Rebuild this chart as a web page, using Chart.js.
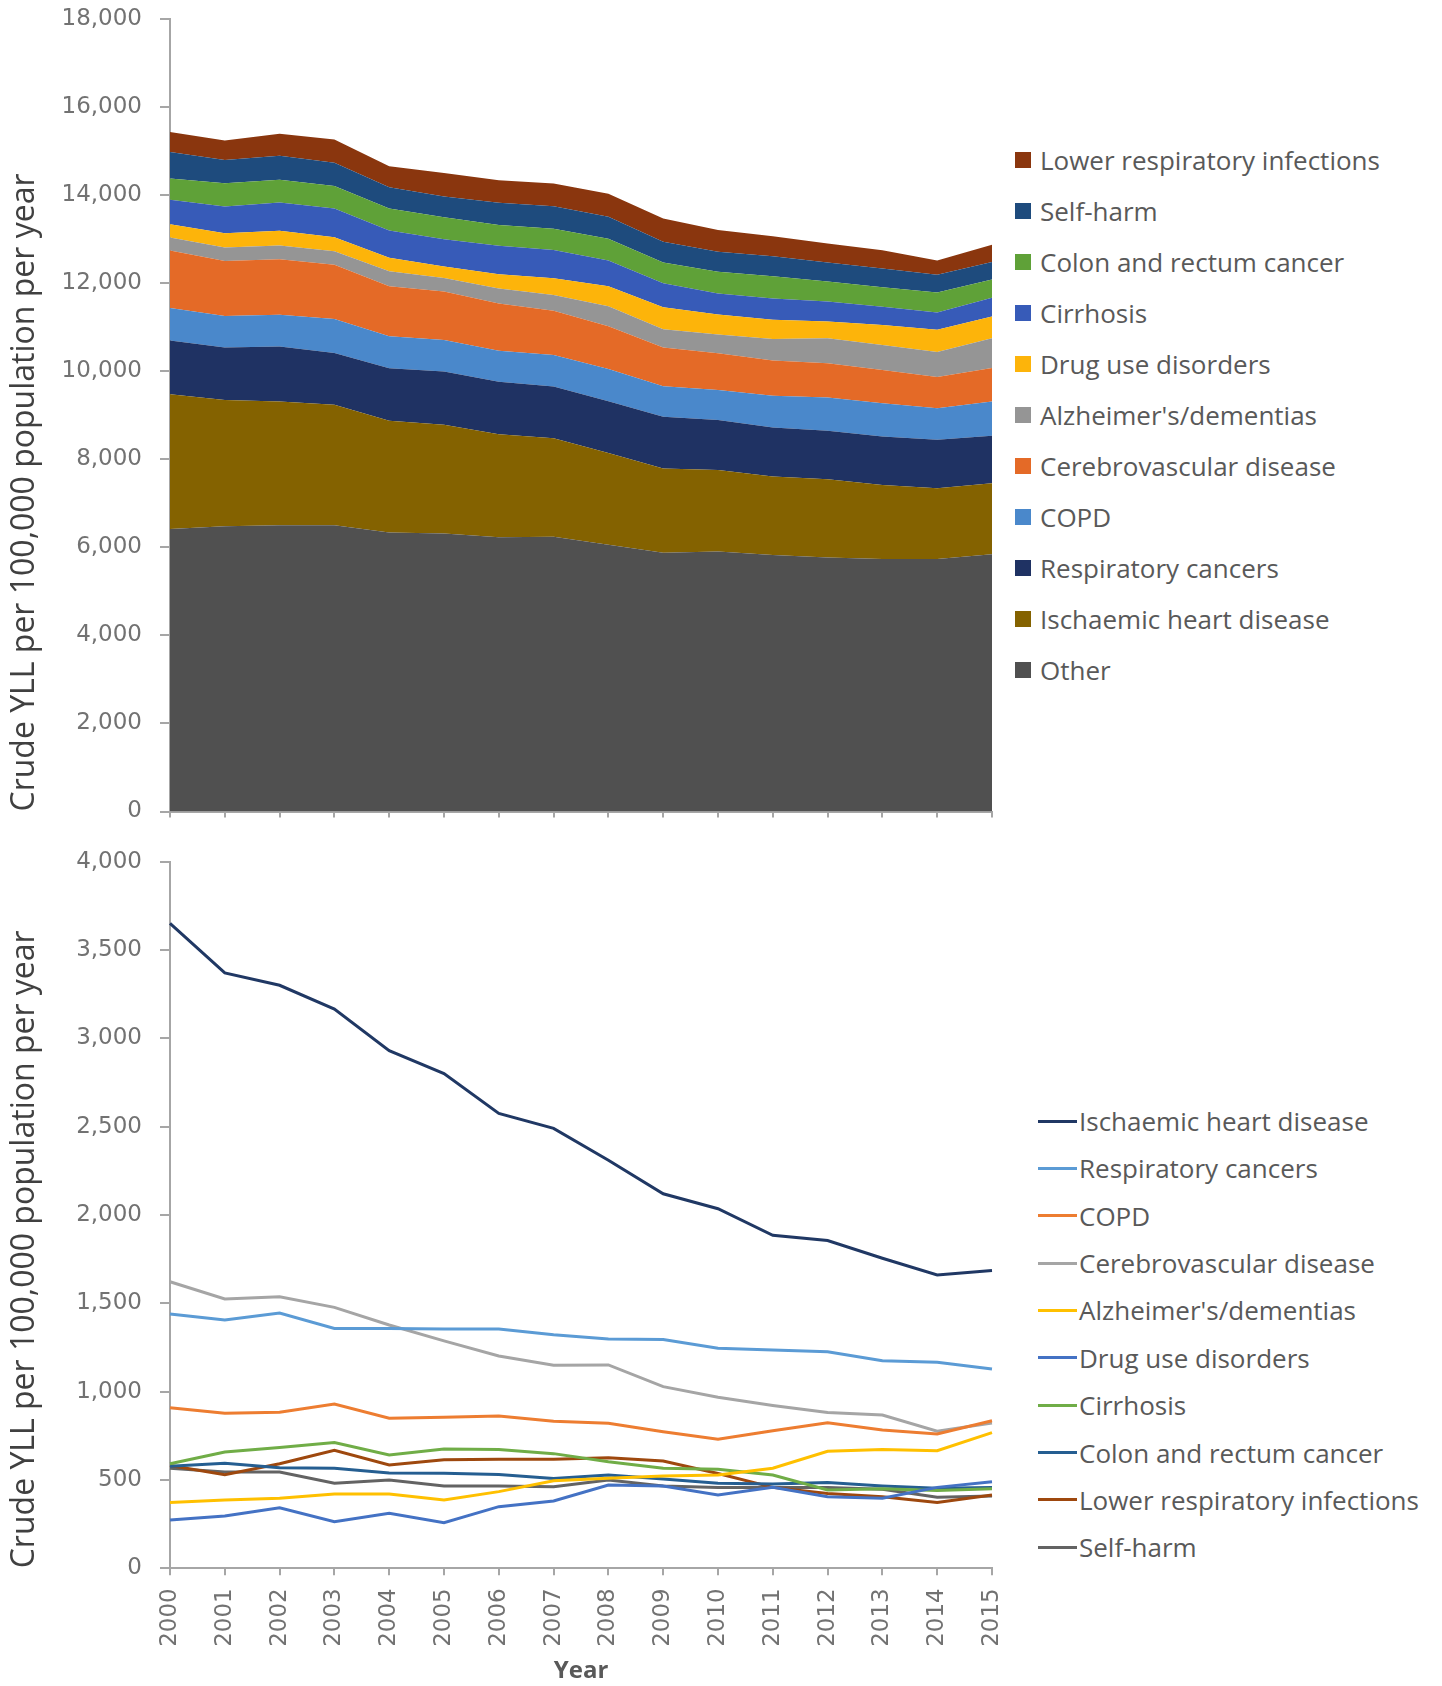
<!DOCTYPE html>
<html lang="en">
<head>
  <meta charset="UTF-8">
  <title>Crude YLL per 100,000 population per year</title>
  <script src="https://cdn.jsdelivr.net/npm/chart.js@4.4.0/dist/chart.umd.min.js"></script>
  <style>
    body { margin: 0; background: #fff; }
    .page { position: relative; width: 1442px; height: 1686px; overflow: hidden; }
    .chart-box { position: absolute; left: 0; width: 1010px; }
    #stackBox { top: 0; height: 840px; }
    #lineBox { top: 840px; height: 846px; }
    .legend-item {
      position: absolute; height: 30px; line-height: 30px; white-space: nowrap;
      font-family: "Open Sans", sans-serif; font-size: 26px; color: #595959;
    }
    .legend-item .mark { position: absolute; }
    .legend-item span.txt { position: absolute; top: 0; }
  </style>
</head>
<body>
<div class="page">
  <div class="chart-box" id="stackBox"><canvas id="stackChart"></canvas></div>
  <div class="chart-box" id="lineBox"><canvas id="lineChart"></canvas></div>
  <div id="stackLegend"></div>
  <div id="lineLegend"></div>
</div>

<script>
  // ---- data ----
  const years = ['2000', '2001', '2002', '2003', '2004', '2005', '2006', '2007',
                 '2008', '2009', '2010', '2011', '2012', '2013', '2014', '2015'];

  // top chart: stacked areas (bottom to top)
  const stackOther     = [6420, 6480, 6505, 6505, 6340, 6315, 6230, 6240, 6060, 5880, 5905, 5830, 5770, 5740, 5740, 5845];
  const stackIschaemic = [3060, 2870, 2810, 2735, 2540, 2470, 2340, 2240, 2085, 1915, 1855, 1780, 1780, 1680, 1605, 1615];
  const stackRespCanc  = [1220, 1190, 1250, 1175, 1190, 1210, 1195, 1175, 1175, 1175, 1135, 1115, 1100, 1100, 1100, 1075];
  const stackCopd      = [740, 720, 720, 775, 730, 720, 705, 720, 735, 695, 680, 720, 755, 755, 720, 780];
  const stackCerebro   = [1305, 1250, 1265, 1235, 1135, 1100, 1075, 1005, 970, 880, 835, 805, 780, 755, 705, 760];
  const stackAlzheimer = [295, 305, 310, 305, 340, 305, 340, 355, 455, 410, 430, 485, 570, 570, 570, 680];
  const stackDrugUse   = [305, 325, 335, 320, 305, 265, 320, 380, 455, 500, 455, 440, 380, 455, 505, 490];
  const stackCirrhosis = [555, 605, 645, 650, 620, 620, 650, 645, 585, 545, 475, 480, 455, 415, 395, 430];
  const stackColon     = [485, 530, 515, 510, 500, 500, 470, 480, 495, 475, 495, 505, 455, 440, 455, 415];
  const stackSelfHarm  = [600, 530, 545, 530, 485, 470, 505, 515, 500, 470, 455, 455, 430, 430, 400, 395];
  const stackLri       = [455, 440, 500, 530, 475, 530, 515, 515, 520, 530, 495, 455, 430, 415, 325, 395];

  const stackNames = ['Other', 'Ischaemic heart disease', 'Respiratory cancers', 'COPD',
    'Cerebrovascular disease', "Alzheimer's/dementias", 'Drug use disorders', 'Cirrhosis',
    'Colon and rectum cancer', 'Self-harm', 'Lower respiratory infections'];
  const stackColors = ['#505050', '#846200', '#1f3263', '#4a88cb', '#e46a27', '#959595',
    '#fdb40a', '#375bb8', '#5fa138', '#1e4b7d', '#8a360e'];
  const stackSeries = [stackOther, stackIschaemic, stackRespCanc, stackCopd, stackCerebro,
    stackAlzheimer, stackDrugUse, stackCirrhosis, stackColon, stackSelfHarm, stackLri];

  // bottom chart: lines
  const lineIschaemic = [3650, 3370, 3300, 3165, 2930, 2800, 2575, 2490, 2310, 2120, 2035, 1885, 1855, 1755, 1660, 1685];
  const lineRespCanc  = [1440, 1405, 1445, 1358, 1358, 1355, 1355, 1322, 1298, 1295, 1245, 1236, 1226, 1175, 1166, 1128];
  const lineCopd      = [909, 877, 883, 930, 849, 855, 862, 833, 821, 773, 731, 779, 824, 783, 760, 835];
  const lineCerebro   = [1622, 1524, 1537, 1477, 1377, 1287, 1202, 1149, 1151, 1028, 968, 922, 882, 868, 776, 822];
  const lineAlzheimer = [373, 387, 396, 420, 420, 387, 434, 495, 509, 522, 528, 566, 662, 673, 666, 768];
  const lineDrugUse   = [273, 296, 343, 264, 311, 258, 349, 381, 471, 466, 415, 458, 405, 396, 458, 490];
  const lineCirrhosis = [592, 658, 684, 712, 641, 675, 672, 649, 603, 566, 560, 528, 443, 450, 440, 450];
  const lineColon     = [577, 594, 569, 566, 540, 538, 531, 509, 528, 505, 481, 477, 485, 466, 453, 458];
  const lineLri       = [582, 530, 592, 668, 585, 615, 617, 617, 626, 607, 537, 458, 424, 405, 372, 415];
  const lineSelfHarm  = [566, 545, 545, 481, 500, 466, 466, 462, 500, 466, 458, 458, 458, 447, 402, 409];

  const lineNames = ['Ischaemic heart disease', 'Respiratory cancers', 'COPD', 'Cerebrovascular disease',
    "Alzheimer's/dementias", 'Drug use disorders', 'Cirrhosis', 'Colon and rectum cancer',
    'Lower respiratory infections', 'Self-harm'];
  const lineColors = ['#203864', '#5b9bd5', '#ed7d31', '#a5a5a5', '#ffc000', '#4472c4',
    '#70ad47', '#255e91', '#9e480e', '#636363'];
  const lineSeries = [lineIschaemic, lineRespCanc, lineCopd, lineCerebro, lineAlzheimer,
    lineDrugUse, lineCirrhosis, lineColon, lineLri, lineSelfHarm];

  const yTitle = 'Crude YLL per 100,000 population per year';

  // ---- shared styling ----
  const axisColor = '#a6a6a6';
  const tickFont = { family: 'DejaVu Sans', size: 23 };
  const tickColor = '#727272';

  function yAxis(max, step, stacked) {
    return {
      stacked: stacked, min: 0, max: max,
      ticks: { stepSize: step, padding: 18, color: tickColor, font: tickFont },
      grid: { drawOnChartArea: false, tickLength: 10, color: axisColor, lineWidth: 2 },
      border: { color: axisColor, width: 2 },
      title: { display: true, text: yTitle, align: 'start', color: '#404040',
               font: { family: 'Open Sans', size: 32 }, padding: { top: 6, bottom: 0 } },
      afterFit: s => { s.width = 170; s.paddingTop = 0; s.paddingBottom = 0; }
    };
  }

  // ---- top: stacked area ----
  new Chart(document.getElementById('stackChart'), {
    type: 'line',
    data: {
      labels: years,
      datasets: stackSeries.map((vals, i) => ({
        label: stackNames[i],
        data: vals,
        backgroundColor: stackColors[i],
        borderColor: stackColors[i],
        borderWidth: 0,
        pointRadius: 0,
        tension: 0,
        fill: i === 0 ? 'origin' : '-1'
      }))
    },
    options: {
      responsive: true, maintainAspectRatio: false, animation: false,
      layout: { padding: { top: 19.3, right: 18, bottom: 0, left: 0 } },
      plugins: { legend: { display: false }, tooltip: { enabled: false } },
      scales: {
        x: {
          ticks: { display: false },
          grid: { drawOnChartArea: false, tickLength: 6, color: axisColor, lineWidth: 2 },
          border: { color: axisColor, width: 2 },
          afterFit: s => { s.height = 28.5; s.paddingLeft = 0; s.paddingRight = 0; }
        },
        y: yAxis(18000, 2000, true)
      }
    }
  });

  // ---- bottom: lines ----
  new Chart(document.getElementById('lineChart'), {
    type: 'line',
    data: {
      labels: years,
      datasets: lineSeries.map((vals, i) => ({
        label: lineNames[i],
        data: vals,
        borderColor: lineColors[i],
        backgroundColor: lineColors[i],
        borderWidth: 3,
        pointRadius: 0,
        tension: 0,
        fill: false
      }))
    },
    options: {
      responsive: true, maintainAspectRatio: false, animation: false,
      layout: { padding: { top: 21.6, right: 18, bottom: 0, left: 0 } },
      plugins: { legend: { display: false }, tooltip: { enabled: false } },
      scales: {
        x: {
          ticks: { minRotation: 90, maxRotation: 90, padding: 13, color: tickColor, font: tickFont },
          grid: { drawOnChartArea: false, tickLength: 7, color: axisColor, lineWidth: 2 },
          border: { color: axisColor, width: 2 },
          title: { display: true, text: 'Year', color: '#595959',
                   font: { family: 'Open Sans', size: 24, weight: 'bold' }, padding: 0 },
          afterFit: s => { s.height = 117.7; s.paddingLeft = 0; s.paddingRight = 0; }
        },
        y: yAxis(4000, 500, false)
      }
    }
  });

  // ---- legends (html) ----
  function buildLegend(holder, names, colors, order, firstY, step, kind) {
    const el = document.getElementById(holder);
    order.forEach((idx, row) => {
      const cy = firstY + row * step;
      const item = document.createElement('div');
      item.className = 'legend-item';
      item.style.top = (cy - 15) + 'px';
      const mark = document.createElement('div');
      mark.className = 'mark';
      if (kind === 'box') {
        item.style.left = '1015px';
        mark.style.cssText = 'left:0;top:7px;width:16px;height:16px;background:' + colors[idx];
      } else {
        item.style.left = '1038px';
        mark.style.cssText = 'left:0;top:13.5px;width:39px;height:3px;background:' + colors[idx];
      }
      const txt = document.createElement('span');
      txt.className = 'txt';
      txt.style.left = kind === 'box' ? '25px' : '41px';
      txt.textContent = names[idx];
      item.appendChild(mark);
      item.appendChild(txt);
      el.appendChild(item);
    });
  }

  buildLegend('stackLegend', stackNames, stackColors,
    stackNames.map((_, i) => stackNames.length - 1 - i), 160.2, 51.0, 'box');
  buildLegend('lineLegend', lineNames, lineColors,
    lineNames.map((_, i) => i), 1121, 47.37, 'line');
</script>
</body>
</html>
